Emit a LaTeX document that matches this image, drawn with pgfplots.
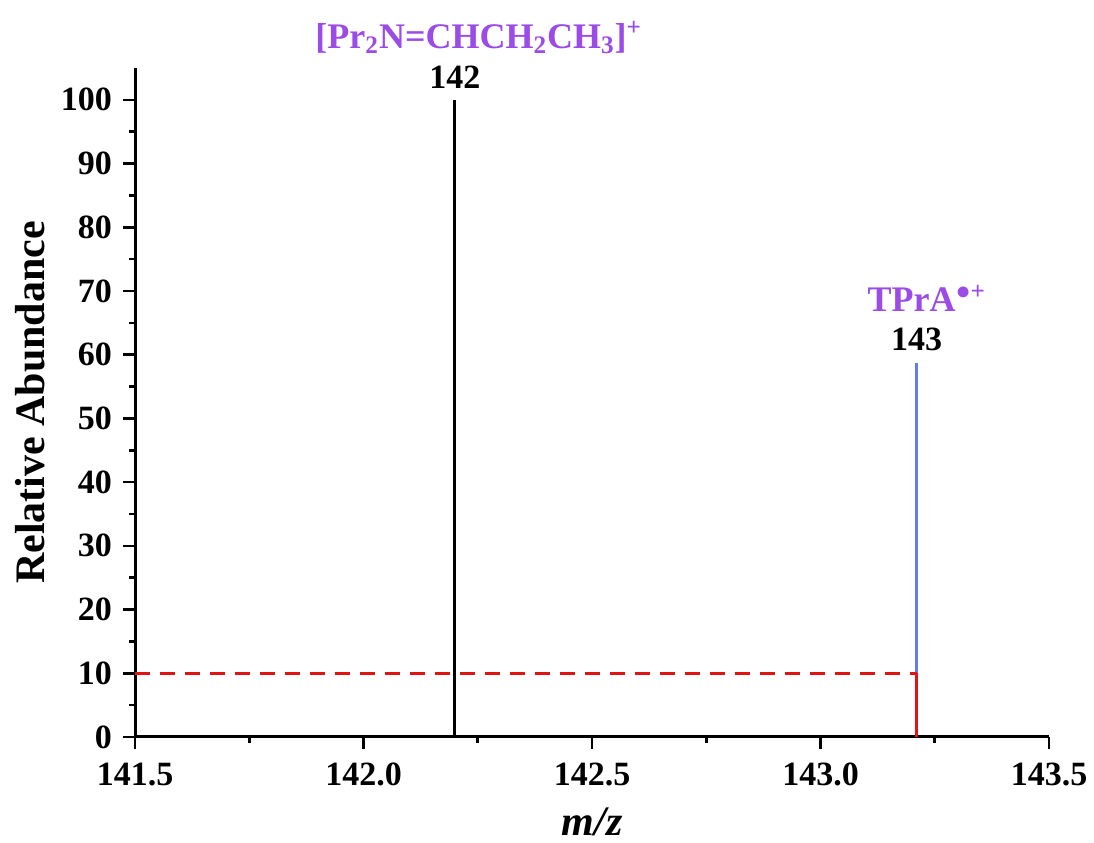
\documentclass[border=0pt]{standalone}
\usepackage{fontspec}
\setmainfont{Liberation Serif}
\usepackage{pgfplots}
\pgfplotsset{compat=1.18}

\definecolor{lblpurple}{RGB}{155,75,230}
\definecolor{stickblue}{RGB}{100,125,235}
\definecolor{stickred}{RGB}{225,20,20}

\begin{document}
\begin{tikzpicture}
\begin{axis}[
    scale only axis,
    width=457pt, height=334.5pt,
    xmin=141.5, xmax=143.5,
    ymin=0, ymax=105,
    axis lines*=left,
    axis line style={line width=1.5pt},
    tick align=outside,
    major tick length=6pt,
    minor tick length=3pt,
    every tick/.style={black, line width=1.3pt},
    xtick={141.5,142,142.5,143,143.5},
    ytick={0,10,...,100},
    minor x tick num=1,
    minor y tick num=1,
    /pgf/number format/assume math mode=true,
    tick label style={font=\fontsize{17}{17}\selectfont\bfseries},
    xticklabel style={yshift=-3.5pt, /pgf/number format/.cd, fixed, fixed zerofill, precision=1},
    yticklabel style={xshift=-2pt},
    xlabel={\textit{m/z}},
    ylabel={Relative Abundance},
    label style={font=\fontsize{21}{21}\selectfont\bfseries},
    xlabel style={at={(axis description cs:0.5,-0.127)}, anchor=center},
    ylabel style={at={(axis description cs:-0.115,0.5)}, anchor=center},
    clip=false,
]
% sticks
\addplot[black, line width=1.5pt] coordinates {(142.2,0) (142.2,100)};
\addplot[stickblue, line width=1.5pt] coordinates {(143.21,10) (143.21,58.7)};
\addplot[stickred, line width=1.5pt] coordinates {(143.21,0) (143.21,10)};
\addplot[stickred, line width=1.4pt, dash pattern=on 7.5pt off 5pt] coordinates {(141.5,10) (143.21,10)};

% annotations
\node[anchor=base, font=\fontsize{17}{17}\selectfont\bfseries] at (axis cs:142.2,101.7) {142};
\node[anchor=base west, inner sep=0pt, text=lblpurple, font=\fontsize{18}{18}\selectfont\bfseries]
    at (axis cs:141.894,108.1) {[Pr\textsubscript{2}N=CHCH\textsubscript{2}CH\textsubscript{3}]\textsuperscript{+}};
\node[anchor=base, font=\fontsize{17}{17}\selectfont\bfseries] at (axis cs:143.21,60.7) {143};
\node[anchor=base west, inner sep=0pt, text=lblpurple, font=\fontsize{18}{18}\selectfont\bfseries]
    at (axis cs:143.102,66.7) {TPrA\textsuperscript{●+}};

% page extent
\path (axis description cs:-0.1477,-0.1584) rectangle (axis description cs:1.0492,1.1016);
\end{axis}
\end{tikzpicture}
\end{document}
